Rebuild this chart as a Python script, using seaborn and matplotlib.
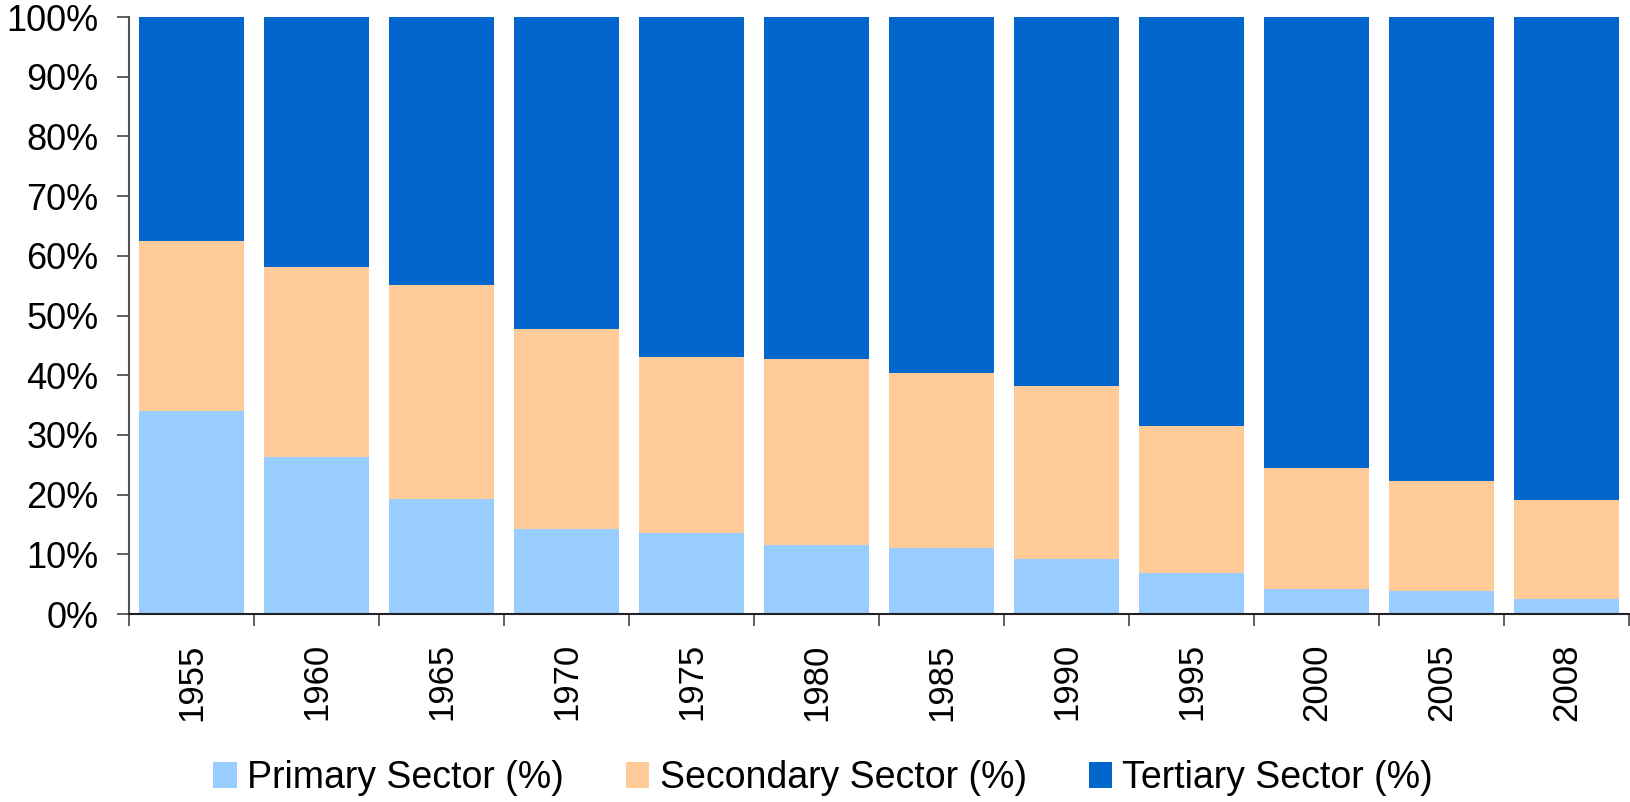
import matplotlib
matplotlib.use("Agg")
import matplotlib.pyplot as plt
import seaborn as sns
import pandas as pd
import numpy as np
from matplotlib.patches import Patch
from matplotlib.ticker import FixedLocator, PercentFormatter

years = ["1955", "1960", "1965", "1970", "1975", "1980", "1985", "1990", "1995", "2000", "2005", "2008"]
primary = [34.0, 26.3, 19.2, 14.3, 13.6, 11.5, 11.1, 9.2, 6.8, 4.2, 3.9, 2.5]
secondary = [28.5, 31.9, 35.9, 33.4, 29.4, 31.2, 29.3, 29.0, 24.7, 20.3, 18.4, 16.6]
tertiary = [round(100 - p - s, 1) for p, s in zip(primary, secondary)]

series_names = ["Primary Sector (%)", "Secondary Sector (%)", "Tertiary Sector (%)"]
colors = ["#99CCFF", "#FFCC99", "#0366CC"]

df = pd.DataFrame({"year": years, "primary": primary, "secondary": secondary, "tertiary": tertiary})
df["cum_secondary"] = df["primary"] + df["secondary"]
df["cum_tertiary"] = df["cum_secondary"] + df["tertiary"]

sns.set_style("white")
plt.rcParams["font.family"] = ["Liberation Sans", "DejaVu Sans"]
plt.rcParams["text.color"] = "black"

fig = plt.figure(figsize=(16.30, 8.02), dpi=100)
ax = fig.add_axes([0.0791, 0.2344, 0.9203, 0.7444])

W = 0.84
sns.barplot(data=df, x="year", y="cum_tertiary", color=colors[2], saturation=1, width=W, ax=ax, linewidth=0)
sns.barplot(data=df, x="year", y="cum_secondary", color=colors[1], saturation=1, width=W, ax=ax, linewidth=0)
sns.barplot(data=df, x="year", y="primary", color=colors[0], saturation=1, width=W, ax=ax, linewidth=0)

ax.set_xlim(-0.5, len(years) - 0.5)
ax.set_ylim(0, 100)
ax.set_xlabel("")
ax.set_ylabel("")

ax.yaxis.set_major_locator(FixedLocator(np.arange(0, 101, 10)))
ax.yaxis.set_major_formatter(PercentFormatter(decimals=0))
ax.tick_params(axis="y", which="major", direction="out", length=8.6, width=1.2,
               color="#444444", labelsize=26, pad=13.5, left=True, labelcolor="black")

ax.set_xticks(range(len(years)))
ax.set_xticklabels(years, rotation=90)
ax.tick_params(axis="x", which="major", length=0, labelsize=25, pad=21, labelcolor="black")
ax.xaxis.set_minor_locator(FixedLocator(np.arange(-0.5, len(years), 1.0)))
ax.tick_params(axis="x", which="minor", direction="out", length=8.6, width=1.2,
               color="#444444", bottom=True)
for lbl in ax.get_xticklabels():
    lbl.set_va("top")
    lbl.set_ha("center")

for side in ["top", "right"]:
    ax.spines[side].set_visible(False)
ax.spines["left"].set_color("#555555")
ax.spines["left"].set_linewidth(1.5)
ax.spines["bottom"].set_color("#222222")
ax.spines["bottom"].set_linewidth(1.5)
ax.grid(False)

handles = [Patch(facecolor=c, edgecolor="none", label=n) for c, n in zip(colors, series_names)]
fig.legend(handles=handles, loc="center", bbox_to_anchor=(0.505, 0.030), ncol=3, frameon=False,
           fontsize=27, labelcolor="black", handlelength=0.62, handleheight=0.7,
           handletextpad=0.28, columnspacing=1.65)

fig.savefig("out.png", dpi=100)
